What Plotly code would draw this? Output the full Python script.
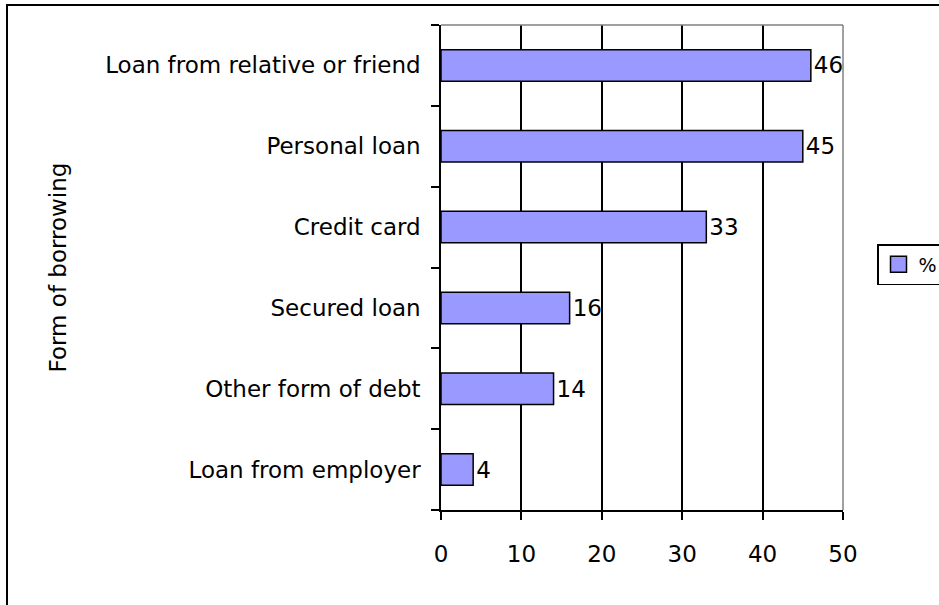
import plotly.graph_objects as go

# Forms of borrowing, share of respondents (%)
categories = [
    "Loan from employer",
    "Other form of debt",
    "Secured loan",
    "Credit card",
    "Personal loan",
    "Loan from relative or friend",
]
values = [4, 14, 16, 33, 45, 46]
series_name = "%"
x_ticks = [0, 10, 20, 30, 40, 50]

FONT = "DejaVu Sans"
FILL = "#9999FF"

fig = go.Figure()
fig.add_trace(go.Bar(
    y=categories,
    x=values,
    orientation="h",
    name=series_name,
    showlegend=False,
    marker=dict(color=FILL, line=dict(color="black", width=1.5)),
    text=[str(v) for v in values],
    textposition="outside",
    textfont=dict(family=FONT, size=23, color="black"),
    cliponaxis=False,
    width=0.39,
))
# legend entry with a larger square swatch
fig.add_trace(go.Scatter(
    x=[None], y=[None],
    mode="markers",
    name=series_name,
    marker=dict(symbol="square", size=16, color=FILL, line=dict(color="black", width=1.5)),
    showlegend=True,
))

fig.update_layout(
    width=939,
    height=605,
    margin=dict(l=441, r=96, t=25, b=95),
    paper_bgcolor="white",
    plot_bgcolor="white",
    font=dict(family=FONT, size=23, color="black"),
    showlegend=True,
    legend=dict(
        xref="container",
        yref="container",
        x=877 / 939,
        y=1 - 244 / 605,
        xanchor="left",
        yanchor="top",
        bordercolor="black",
        borderwidth=1.5,
        bgcolor="white",
        font=dict(family=FONT, size=19),
        itemwidth=30,
        tracegroupgap=0,
    ),
    xaxis=dict(
        range=[0, 50],
        tickvals=x_ticks,
        showgrid=True,
        gridcolor="black",
        gridwidth=1.5,
        zeroline=False,
        showline=True,
        linecolor="black",
        linewidth=1.5,
        ticks="outside",
        ticklen=8,
        tickwidth=1.5,
        tickcolor="black",
        ticklabelstandoff=15,
        fixedrange=True,
    ),
    yaxis=dict(
        type="category",
        categoryorder="array",
        categoryarray=categories,
        tickson="boundaries",
        ticks="outside",
        ticklen=8,
        tickwidth=1.5,
        tickcolor="black",
        showline=True,
        linecolor="black",
        linewidth=1.5,
        showgrid=False,
        ticklabelstandoff=14,
        title=dict(text="Form of borrowing", font=dict(family=FONT, size=23), standoff=32),
        fixedrange=True,
    ),
)

# grey border on the top and right of the plotting area
fig.add_shape(type="line", xref="paper", yref="paper", x0=0, x1=1, y0=1, y1=1,
              line=dict(color="#808080", width=1.5))
fig.add_shape(type="line", xref="paper", yref="paper", x0=1, x1=1, y0=0, y1=1,
              line=dict(color="#808080", width=1.5))

# outer chart frame
W, H = 939 - 441 - 96, 605 - 25 - 95
fig.add_shape(type="rect", xref="paper", yref="paper",
              x0=(7 - 441) / W, x1=(960 - 441) / W,
              y0=(605 - 95 - 640) / H, y1=(605 - 95 - 5) / H,
              line=dict(color="black", width=2), layer="below")

fig.write_html("out.html")
